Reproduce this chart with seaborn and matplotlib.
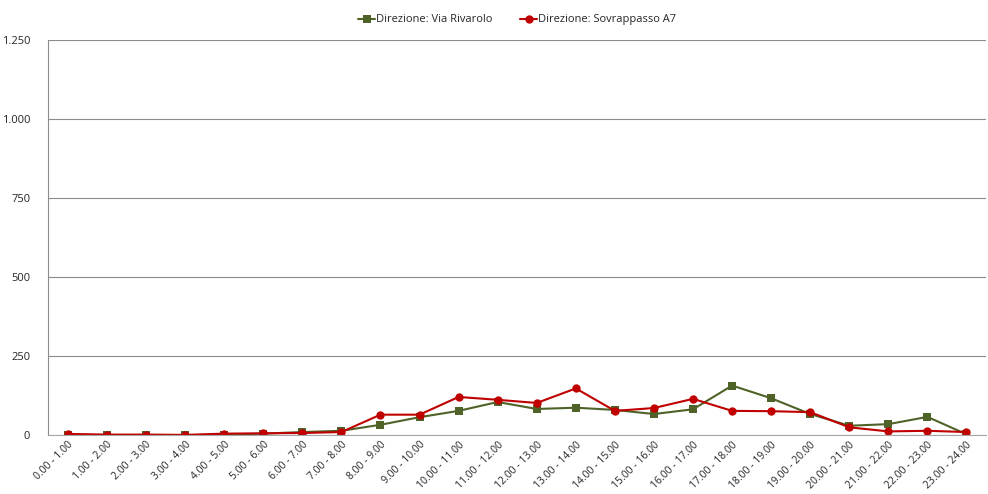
import matplotlib.pyplot as plt
import matplotlib.ticker as mticker
import seaborn as sns
import pandas as pd
import numpy as np

# Fasce orarie
fasce = ["0.00 - 1.00", "1.00 - 2.00", "2.00 - 3.00", "3.00 - 4.00", "4.00 - 5.00",
         "5.00 - 6.00", "6.00 - 7.00", "7.00 - 8.00", "8.00 - 9.00", "9.00 - 10.00",
         "10.00 - 11.00", "11.00 - 12.00", "12.00 - 13.00", "13.00 - 14.00",
         "14.00 - 15.00", "15.00 - 16.00", "16.00 - 17.00", "17.00 - 18.00",
         "18.00 - 19.00", "19.00 - 20.00", "20.00 - 21.00", "21.00 - 22.00",
         "22.00 - 23.00", "23.00 - 24.00"]

via_rivarolo = [2, 0, 0, 0, 2, 5, 10, 14, 33, 57, 77, 105, 83, 87, 80, 67, 82,
                157, 117, 67, 30, 35, 58, 3]
sovrappasso_a7 = [4, 2, 2, 1, 5, 6, 7, 10, 65, 65, 121, 112, 102, 148, 77, 86, 115,
                  77, 76, 73, 25, 12, 14, 10]

serie = ["Direzione: Via Rivarolo", "Direzione: Sovrappasso A7"]
colori = ["#4F6228", "#C00000"]

df = pd.DataFrame({
    "x": list(range(len(fasce))) * 2,
    "valore": via_rivarolo + sovrappasso_a7,
    "serie": [serie[0]] * len(fasce) + [serie[1]] * len(fasce),
})

sns.set_style("white")
plt.rcParams['font.family'] = ['Open Sans', 'DejaVu Sans']

fig, ax = plt.subplots(figsize=(9.88, 4.94), dpi=100)
fig.subplots_adjust(left=0.049, right=0.998, top=0.919, bottom=0.119)

sns.lineplot(data=df, x="x", y="valore", hue="serie", style="serie",
             palette=colori, markers=["s", "o"], dashes=False,
             markersize=6, linewidth=1.5, markeredgewidth=0, ax=ax)

ax.set_xlim(-0.5, len(fasce) - 0.5)
ax.set_ylim(0, 1250)
ax.set_yticks([0, 250, 500, 750, 1000, 1250])
ax.yaxis.set_major_formatter(mticker.FuncFormatter(lambda v, p: f"{int(v):,}".replace(",", ".")))
ax.grid(axis="y", color="#8C8C8C", linewidth=0.8)
ax.set_axisbelow(True)

ax.set_xticks(range(len(fasce)))
ax.set_xticklabels(fasce, rotation=45, ha="right", rotation_mode="anchor", fontsize=7.5)
ax.set_xticks(np.arange(-0.5, len(fasce), 1), minor=True)
ax.tick_params(axis="x", which="major", length=0, pad=3)
ax.tick_params(axis="x", which="minor", length=4, color="#A6A6A6", width=0.8)
ax.tick_params(axis="y", length=5, color="#8C8C8C", width=0.8, labelsize=8, pad=8)

for s in ["top", "right"]:
    ax.spines[s].set_visible(False)
ax.spines["left"].set_color("#8C8C8C")
ax.spines["bottom"].set_color("#A6A6A6")
for s in ["left", "bottom"]:
    ax.spines[s].set_linewidth(0.8)

ax.set_xlabel("")
ax.set_ylabel("")
handles, labels = ax.get_legend_handles_labels()
ax.legend(handles, labels, loc="upper center", bbox_to_anchor=(0.5, 1.09), ncol=2,
          frameon=False, fontsize=8, handlelength=1.5, handletextpad=0.1,
          columnspacing=2.5)

fig.savefig("out.png", dpi=100)
